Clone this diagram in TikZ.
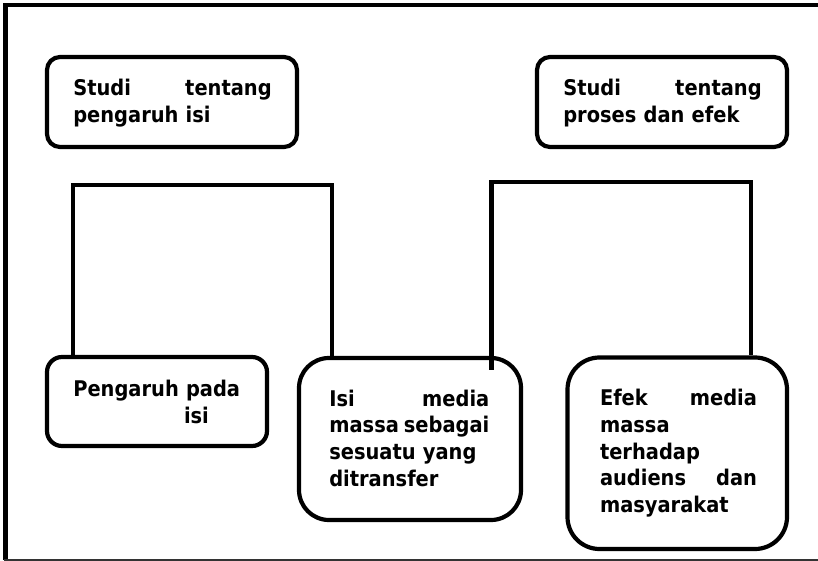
\documentclass[tikz,border=0pt]{standalone}
\usepackage{fontspec}
\setmainfont{DejaVu Sans Condensed}
\begin{document}
\begin{tikzpicture}[x=1bp,y=-1bp,
  box/.style={draw=black,line width=4.2bp,fill=white,inner sep=0pt,rounded corners=#1},
  box/.default=13bp,
  txt/.style={inner sep=0pt,outer sep=0pt,align=left,anchor=base west,
    font=\bfseries\fontsize{21.6bp}{26.7bp}\selectfont},
  conn/.style={draw=black,line width=4.2bp},
  frameline/.style={draw=black,line width=4bp}]
\useasboundingbox (0,0) rectangle (818,561);
% frame
\draw[frameline] (818,5.5) -- (5.5,5.5) -- (5.5,559.5);
\draw[draw=black!80,line width=2bp] (4,559.5) -- (818,559.5);
% boxes
\node[box, minimum width=250bp, minimum height=90bp] (b1) at (172,102) {};
\node[box, minimum width=250bp, minimum height=90bp] (b2) at (662,102) {};
\node[box=15bp, minimum width=220bp, minimum height=89bp] (b3) at (157,401.5) {};
\node[box=30bp, minimum width=222bp, minimum height=162bp] (b4) at (410,439) {};
\node[box=32bp, minimum width=219.5bp, minimum height=191.5bp] (b5) at (677.25,453.25) {};
% connectors
\coordinate (la) at (73,185);
\coordinate (lb) at (332,185);
\coordinate (ra) at (491.5,182);
\coordinate (rb) at (751,182);
\draw[conn] (b3.north -| la) -- (la) -- (lb) -- (b4.north -| lb);
\draw[conn] ([yshift=-14bp]b4.north -| ra) -- (ra) -- (rb) -- (b5.north -| rb);
% texts
\node[txt, text width=198.4bp] (t1) at (73.3,96) {Studi\hfill tentang\\pengaruh isi};
\node[txt, text width=198.4bp] (t2) at (563.3,96) {Studi\hfill tentang\\proses dan efek};
\node[txt, text width=170bp] (t3) at (73.3,396.7) {Pengaruh pada\\\hspace*{110.7bp}isi};
\node[txt, text width=160bp] (t4) at (329.3,406) {Isi\hfill media\\massa\hfill sebagai\\sesuatu yang\\ditransfer};
\node[txt, text width=157bp] (t5) at (600,405.7) {Efek\hfill media\\massa\\terhadap\\audiens\hfill dan\\masyarakat};
\end{tikzpicture}
\end{document}
